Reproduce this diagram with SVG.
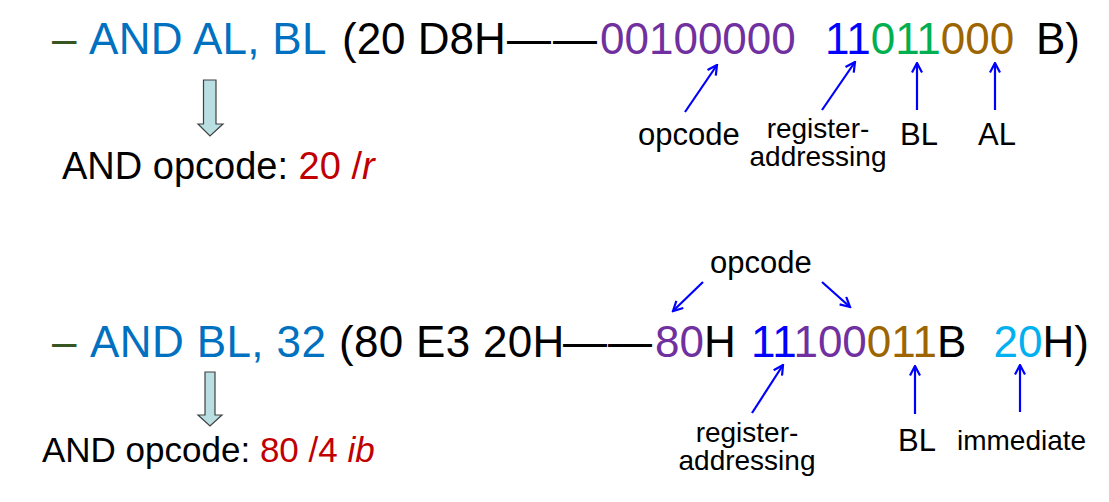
<svg xmlns="http://www.w3.org/2000/svg" width="1109" height="502" viewBox="0 0 1109 502">
<style>
text{font-family:"Liberation Sans",Arial,sans-serif;}
.main{font-size:44px;fill:#000;}
.sub{font-size:38px;fill:#000;}
.lbl{font-size:31px;fill:#000;}
.lbs{font-size:28px;fill:#000;}
.dg{fill:#375623;}
.bl{fill:#0070C0;}
.pu{fill:#7030A0;}
.bb{fill:#0000FF;}
.gr{fill:#00B050;}
.br{fill:#9C6500;}
.lb{fill:#00B0F0;}
.rd{fill:#C00000;}
.it{font-style:italic;}
.hollow{fill:#B9DFE3;stroke:#404040;stroke-width:1.2;}
.ptr{stroke:#0000FF;stroke-width:2.2;fill:none;marker-end:url(#ah);}
</style>
<defs>
<marker id="ah" viewBox="0 0 12 12" refX="10.5" refY="6" markerWidth="12" markerHeight="12" orient="auto" markerUnits="userSpaceOnUse">
<path d="M1,1 L10.5,6 L1,11" fill="none" stroke="#0000FF" stroke-width="2.2"/>
</marker>
</defs>
<rect width="1109" height="502" fill="#fff"/>

<g id="instr1">
<text class="main" y="54"><tspan x="52" class="dg">–</tspan><tspan x="89" class="bl" letter-spacing="0.3">AND AL, BL</tspan><tspan x="342">(20 D8H</tspan><tspan x="507" letter-spacing="2">——</tspan><tspan x="600" class="pu">00100000</tspan><tspan x="825" class="bb">11</tspan><tspan class="gr">011</tspan><tspan class="br">000</tspan><tspan x="1036">B)</tspan></text>
</g>
<g id="hollow1"><path class="hollow" d="M203.5,80 L216,80 L216,124 L223,124 L210,136 L198,124 L203.5,124 Z"/></g>
<g id="opcode1"><text class="sub" x="62" y="179">AND opcode: <tspan class="rd">20 /<tspan class="it">r</tspan></tspan></text></g>

<g id="lbl1-opcode"><text class="lbl" x="638" y="145">opcode</text></g>
<g id="lbl1-reg"><text class="lbs" x="818" y="138" text-anchor="middle">register-</text><text class="lbs" x="818" y="166" text-anchor="middle">addressing</text></g>
<g id="lbl1-bl"><text class="lbl" x="900" y="145">BL</text></g>
<g id="lbl1-al"><text class="lbl" x="978" y="145">AL</text></g>

<g id="instr2">
<text class="main" y="357"><tspan x="52" class="dg">–</tspan><tspan x="90" class="bl" letter-spacing="0.4">AND BL, 32</tspan><tspan x="339" letter-spacing="0.3">(80 E3 20H</tspan><tspan x="563" letter-spacing="1">——</tspan><tspan x="655" class="pu">80</tspan><tspan>H</tspan><tspan x="751" class="bb">11</tspan><tspan class="pu">100</tspan><tspan class="br">011</tspan><tspan>B</tspan><tspan x="993.5" class="lb">20</tspan><tspan>H)</tspan></text>
</g>
<g id="hollow2"><path class="hollow" d="M205,372 L215,372 L215,415 L222,415 L210,426 L198,415 L205,415 Z"/></g>
<g id="opcode2"><text class="sub" x="42" y="462" style="font-size:35px">AND opcode: <tspan class="rd">80 /4 <tspan class="it">ib</tspan></tspan></text></g>

<g id="lbl2-opcode"><text class="lbl" x="710" y="273">opcode</text></g>
<g id="lbl2-reg"><text class="lbs" x="747" y="442" text-anchor="middle">register-</text><text class="lbs" x="747" y="470" text-anchor="middle">addressing</text></g>
<g id="lbl2-bl"><text class="lbl" x="898" y="451">BL</text></g>
<g id="lbl2-imm"><text class="lbs" x="957" y="450">immediate</text></g>

<g id="connectors">
<line class="ptr" x1="685" y1="112" x2="717" y2="65"/>
<line class="ptr" x1="822" y1="110" x2="855" y2="62"/>
<line class="ptr" x1="917" y1="110" x2="917" y2="63"/>
<line class="ptr" x1="995" y1="110" x2="995" y2="63"/>
<line class="ptr" x1="703" y1="282" x2="673" y2="311"/>
<line class="ptr" x1="822" y1="282" x2="850" y2="307"/>
<line class="ptr" x1="752" y1="413" x2="783" y2="365"/>
<line class="ptr" x1="915" y1="414" x2="915" y2="366"/>
<line class="ptr" x1="1020" y1="412" x2="1020" y2="365"/>
</g>
</svg>
